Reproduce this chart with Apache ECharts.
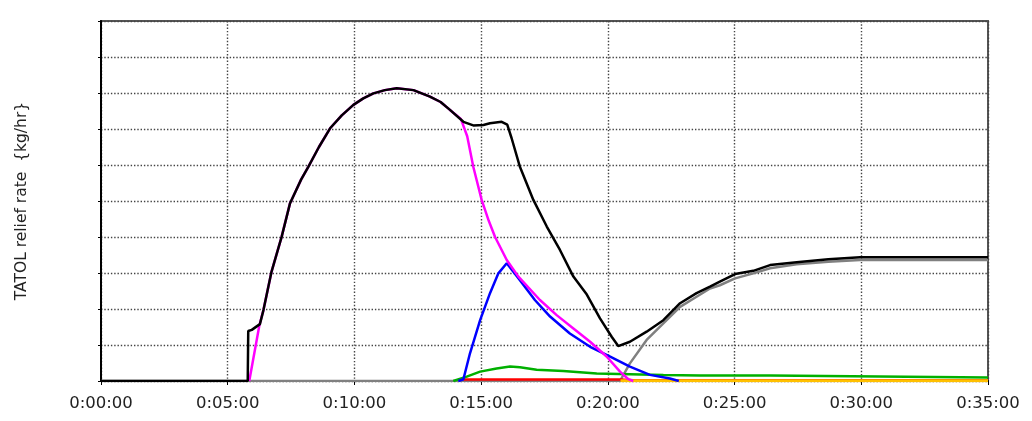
<!DOCTYPE html>
<html>
<head>
<meta charset="utf-8">
<script src="https://cdn.jsdelivr.net/npm/echarts@6/dist/echarts.min.js"></script>
<style>
html,body{margin:0;padding:0;background:#fff;}
#chart{width:1032px;height:421px;}
</style>
</head>
<body>
<div id="chart"></div>
<script>
// time in minutes, values in y-axis units (axis has 10 unlabeled divisions)
const xTickLabels = ['0:00:00','0:05:00','0:10:00','0:15:00','0:20:00','0:25:00','0:30:00','0:35:00'];
const yAxisTitle = 'TATOL relief rate  {kg/hr}';

const totalRelief = [[0,0],[5.79,0],[5.81,1.39],[5.95,1.42],[6.27,1.58],[6.41,1.97],[6.73,3.04],[7.13,4.01],[7.46,4.94],[7.9,5.6],[8.18,5.95],[8.6,6.5],[9.04,7.02],[9.5,7.38],[9.96,7.67],[10.35,7.85],[10.75,7.99],[11.2,8.08],[11.67,8.13],[12.33,8.08],[12.98,7.9],[13.4,7.75],[13.77,7.53],[14.3,7.2],[14.69,7.1],[15.09,7.11],[15.35,7.16],[15.81,7.2],[16.03,7.12],[16.2,6.75],[16.53,5.95],[17.06,5.03],[17.59,4.29],[18.11,3.64],[18.64,2.9],[19.17,2.4],[19.69,1.74],[20.15,1.23],[20.41,0.97],[20.87,1.09],[21.53,1.37],[22.19,1.69],[22.85,2.16],[23.5,2.44],[24.03,2.62],[24.42,2.76],[25.02,2.97],[25.74,3.06],[26.4,3.22],[27.45,3.3],[28.7,3.38],[29.95,3.44],[35,3.44]];
const magentaRelief = [[5.85,0],[6.25,1.55],[6.41,1.97],[6.73,3.04],[7.13,4.01],[7.46,4.94],[7.9,5.6],[8.18,5.95],[8.6,6.5],[9.04,7.02],[9.5,7.38],[9.96,7.67],[10.35,7.85],[10.75,7.99],[11.2,8.08],[11.67,8.13],[12.33,8.08],[12.98,7.9],[13.4,7.75],[13.77,7.53],[14.2,7.28],[14.45,6.8],[14.69,5.95],[15.02,5.03],[15.3,4.45],[15.55,4.0],[16.01,3.36],[16.47,2.9],[17.32,2.25],[17.98,1.83],[18.64,1.46],[19.3,1.09],[19.95,0.68],[20.48,0.26],[20.81,0.05],[21,0]];
const grayRelief = [[0,0],[20.48,0],[20.87,0.49],[21.53,1.14],[22.19,1.6],[22.85,2.06],[23.5,2.34],[24.03,2.57],[24.42,2.66],[25.02,2.85],[25.74,2.99],[26.4,3.13],[27.45,3.24],[28.7,3.31],[29.95,3.36],[35,3.36]];
const blueRelief = [[14.1,0],[14.3,0.05],[14.56,0.77],[14.96,1.69],[15.35,2.44],[15.68,2.99],[16.01,3.27],[16.53,2.8],[17.12,2.25],[17.72,1.79],[18.5,1.32],[19.3,0.95],[20.09,0.68],[20.87,0.4],[21.66,0.17],[22.45,0.07],[22.8,0]];
const greenRelief = [[13.9,0],[14.43,0.12],[14.96,0.26],[15.61,0.35],[16.14,0.4],[16.53,0.38],[17.19,0.31],[18.24,0.28],[19.56,0.21],[20.87,0.19],[22.19,0.17],[23.64,0.15],[26.4,0.15],[26.45,0.1],[35,0.1]];
const redRelief = [[14.3,0.04],[20.5,0.04],[21,0.02],[35,0.02]];
const yellowRelief = [[20.5,0.01],[35,0.01]];

const chart = echarts.init(document.getElementById('chart'), null, {renderer:'canvas'});

function line(name, data, color, w) {
  return {name, type:'line', data, showSymbol:false, symbol:'none',
    lineStyle:{color, width:w||2.5}, itemStyle:{color}, animation:false, silent:true};
}

chart.setOption({
  animation:false,
  backgroundColor:'#fff',
  grid:{left:101, right:44, top:21, bottom:40, show:true, borderColor:'#555', borderWidth:2, backgroundColor:'transparent'},
  xAxis:{
    type:'value', min:0, max:35, interval:5,
    axisLine:{show:true, onZero:false, lineStyle:{color:'#000', width:2}},
    axisTick:{show:true, length:4, lineStyle:{color:'#000', width:1}},
    axisLabel:{formatter:(v)=>xTickLabels[Math.round(v/5)], color:'#222', fontFamily:'DejaVu Sans', fontSize:16.5, margin:14},
    splitLine:{show:true, lineStyle:{color:'#444', width:1.4, type:[1.4,1.9]}}
  },
  yAxis:{
    type:'value', min:0, max:10, interval:1,
    name:yAxisTitle, nameLocation:'middle', nameGap:71, nameRotate:90,
    nameTextStyle:{color:'#222', fontFamily:'DejaVu Sans', fontSize:15.5},
    axisLine:{show:true, lineStyle:{color:'#000', width:2}},
    axisTick:{show:true, length:3, lineStyle:{color:'#000', width:1}},
    axisLabel:{show:false},
    splitLine:{show:true, lineStyle:{color:'#444', width:1.4, type:[1.4,1.9]}}
  },
  series:[
    line('gray', grayRelief, '#808080'),
    line('red', redRelief, '#ff0000'),
    line('yellow', yellowRelief, '#ffc000', 3),
    line('green', greenRelief, '#00b000'),
    line('blue', blueRelief, '#0000ff'),
    line('magenta', magentaRelief, '#ff00ff'),
    line('total', totalRelief, '#000000')
  ]
});
</script>
</body>
</html>
